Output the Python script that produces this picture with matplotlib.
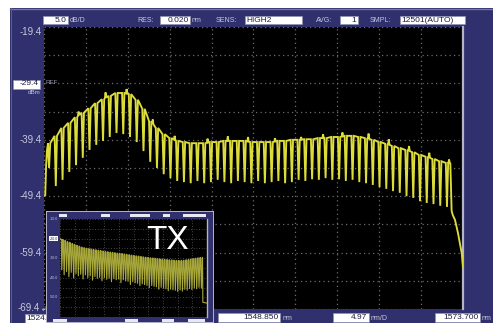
import matplotlib
matplotlib.use("Agg")
import matplotlib.pyplot as plt
import matplotlib.transforms as mtransforms
from matplotlib.patches import Rectangle
import numpy as np

# ---------------- instrument settings ----------------
start_nm = 1524.0
stop_nm = 1573.7
center_nm = 1548.85
span_div_nm = 4.97
ref_dbm = -29.4
scale_db_div = 5.0
top_dbm = -19.4
bottom_dbm = -69.4
axis_labels_dbm = [-19.4, -39.4, -49.4, -59.4]

# ---------------- WDM comb (main trace) ----------------
channel_nm = [
    1524.6, 1525.4, 1526.2, 1527.0, 1527.8, 1528.6, 1529.4, 1530.2, 1531.0, 1531.8,
    1532.6, 1533.4, 1534.2, 1535.0, 1535.8, 1536.6, 1537.4, 1538.2, 1539.0, 1539.8,
    1540.6, 1541.4, 1542.2, 1543.0, 1543.8, 1544.6, 1545.4, 1546.2, 1547.0, 1547.8,
    1548.6, 1549.4, 1550.2, 1551.0, 1551.8, 1552.6, 1553.4, 1554.2, 1555.0, 1555.8,
    1556.6, 1557.4, 1558.2, 1559.0, 1559.8, 1560.6, 1561.4, 1562.2, 1563.0, 1563.8,
    1564.6, 1565.4, 1566.2, 1567.0, 1567.8, 1568.6, 1569.4, 1570.2, 1571.0, 1571.8,
]
peak_dbm = [
    -40.0, -38.7, -37.3, -36.4, -35.4, -34.6, -33.8, -32.9, -32.2, -31.6,
    -31.1, -31.1, -31.3, -32.3, -33.9, -36.1, -37.3, -38.4, -39.1, -39.6,
    -39.8, -40.0, -40.0, -40.0, -39.8, -39.8, -39.6, -39.6, -39.6, -39.6,
    -39.8, -39.8, -39.8, -39.8, -39.6, -39.6, -39.4, -39.4, -39.3, -39.3,
    -39.1, -39.1, -38.9, -38.9, -38.7, -38.7, -38.9, -39.1, -39.4, -39.8,
    -40.1, -40.5, -40.9, -41.2, -41.6, -42.1, -42.4, -42.8, -43.2, -43.5,
]
notch_dbm = [
    -44.4, -47.6, -46.5, -45.1, -43.9, -42.6, -41.2, -40.3, -39.6, -38.9,
    -38.2, -38.4, -38.9, -39.8, -41.4, -43.3, -44.4, -45.5, -46.2, -46.7,
    -46.9, -47.1, -46.7, -47.1, -46.9, -46.5, -46.9, -47.1, -46.7, -46.9,
    -47.1, -46.7, -47.1, -46.9, -46.7, -47.1, -46.9, -46.5, -46.7, -46.4,
    -46.5, -46.2, -46.5, -46.4, -46.7, -46.5, -46.9, -47.1, -47.4, -47.8,
    -48.1, -48.5, -48.8, -49.4, -49.7, -50.3, -50.6, -50.8, -51.1, -51.3,
]
spike_nm = [1528.1, 1531.3, 1533.8, 1536.9, 1539.5, 1543.4, 1545.8, 1548.2, 1551.4,
            1554.5, 1557.1, 1559.4, 1562.5, 1564.9, 1567.3, 1569.7, 1572.05]
spike_dbm = [-34.4, -31.0, -30.4, -35.8, -38.7, -39.2, -38.8, -38.9, -39.1,
             -38.9, -38.4, -38.1, -38.3, -39.3, -40.5, -41.7, -42.9]
rise_nm = [1524.0, 1524.15, 1524.25, 1524.35, 1524.45]
rise_dbm = [-49.3, -49.2, -44.0, -41.3, -40.3]
tail_nm = [1572.2, 1572.35, 1572.5, 1572.75, 1573.1, 1573.55, 1573.7]
tail_dbm = [-43.6, -52.0, -52.8, -53.6, -55.9, -59.5, -62.0]

# ---------------- TX spectrum (inset) ----------------
tx_top_dbm = -10.0
tx_bottom_dbm = -60.0
tx_peak_dbm = [
    -20.4, -20.9, -21.5, -21.9, -22.5, -22.9, -23.4, -23.8, -24.3, -24.6,
    -24.9, -25.1, -25.3, -25.5, -25.7, -25.9, -26.1, -26.3, -26.5, -26.7,
    -26.9, -27.0, -27.2, -27.4, -27.5, -27.6, -27.8, -28.0, -28.2, -28.4,
    -28.6, -28.8, -28.9, -29.1, -29.3, -29.5, -29.6, -29.8, -29.9, -30.0,
    -30.2, -30.3, -30.5, -30.6, -30.7, -30.8, -30.9, -31.0, -31.1, -31.2,
    -31.2, -31.1, -31.0, -30.8, -30.6, -30.4, -30.2, -30.0, -29.8, -29.6,
]
tx_notch_dbm = [
    -36.0, -38.5, -36.8, -39.5, -37.2, -40.1, -37.8, -39.0, -38.2, -40.6,
    -38.5, -40.0, -39.0, -41.2, -39.4, -40.3, -39.8, -41.5, -40.0, -40.8,
    -40.2, -42.0, -40.5, -41.0, -40.6, -42.5, -41.0, -41.6, -41.8, -43.4,
    -42.0, -42.6, -42.8, -44.0, -43.1, -43.5, -43.9, -45.0, -44.0, -44.4,
    -44.6, -45.8, -44.9, -45.3, -45.6, -46.6, -45.8, -46.1, -46.4, -47.0,
    -46.2, -46.8, -45.9, -46.3, -45.5, -46.0, -45.2, -45.6, -44.9, -45.3,
]
tx_rise_nm = [1524.0, 1524.45]
tx_rise_dbm = [-20.0, -20.3]
tx_tail_nm = [1572.2, 1572.3, 1573.7]
tx_tail_dbm = [-29.6, -52.5, -52.9]
tx_labels_dbm = [-10.0, -30.0, -40.0, -50.0]

# ---------------- colours ----------------
NAVY = "#30306e"
LABEL = "#c8c8dc"
BOXTXT = "#1c1c3c"
TRACE = "#dcdc3a"
TX_TRACE = "#a8a83a"
GRID = "#6c6c6c"
EDGE = "#b4b4c8"

W, H = 493, 323
FONT = "Liberation Sans"


def px_rect(x0, y0, x1, y1):
    """Figure-fraction rectangle from pixel corners (origin top-left)."""
    return [x0 / W, 1 - y1 / H, (x1 - x0) / W, (y1 - y0) / H]


def comb_trace(ch, peaks, notches, lead_x, lead_y, tail_x, tail_y,
               sp_x=(), sp_y=(), half=0.12, sp_half=0.08):
    pts = list(zip(lead_x, lead_y))
    for c, p, n in zip(ch, peaks, notches):
        pts += [(c - half, p), (c, n), (c + half, p)]
    for sx, sy in zip(sp_x, sp_y):
        base_l = np.interp(sx - sp_half, ch, peaks)
        base_r = np.interp(sx + sp_half, ch, peaks)
        pts += [(sx - sp_half, base_l), (sx, sy), (sx + sp_half, base_r)]
    pts += list(zip(tail_x, tail_y))
    pts.sort(key=lambda t: t[0])
    xs, ys = zip(*pts)
    return np.array(xs), np.array(ys)


fig = plt.figure(figsize=(W / 100, H / 100), dpi=100)
fig.patch.set_facecolor("white")

# ---------- background panel and annotations (pixel coordinates) ----------
bg = fig.add_axes([0, 0, 1, 1], zorder=0)
bg.set_xlim(0, W)
bg.set_ylim(H, 0)
bg.axis("off")
bg.add_patch(Rectangle((10, 8), W - 10, H - 8, facecolor=NAVY, edgecolor="none"))
bg.plot([10, W], [8.5, 8.5], color="#7676a4", lw=1.0)
bg.plot([10.5, 10.5], [8, H], color="#5a5a90", lw=0.8)


def box(x0, x1, y0, y1, text, align="right", size=6):
    bg.add_patch(Rectangle((x0, y0), x1 - x0, y1 - y0, facecolor="white",
                           edgecolor="#9090b0", lw=0.5))
    if align == "right":
        bg.text(x1 - 1.5, (y0 + y1) / 2 + 0.3, text, ha="right", va="center",
                fontsize=size, color=BOXTXT, family=FONT)
    else:
        bg.text(x0 + 1.5, (y0 + y1) / 2 + 0.3, text, ha="left", va="center",
                fontsize=size, color=BOXTXT, family=FONT)


def label(x, y, text, size=5, ha="left"):
    bg.text(x, y, text, ha=ha, va="center", fontsize=size, color=LABEL, family=FONT)


# header row
box(43, 68, 16, 24, f"{scale_db_div:.1f}")
label(70, 20, "dB/D")
label(137, 20, "RES:")
box(160, 190, 16, 24, "0.020")
label(192, 20, "nm")
label(216, 20, "SENS:")
box(245, 302, 16, 24, "HIGH2", align="left")
label(316, 20, "AVG:")
box(340, 358, 16, 24, "1")
label(370, 20, "SMPL:")
box(400, 465, 16, 24, "12501(AUTO)", align="left")

# footer row
box(25, 68, 314, 323, f"{start_nm:.3f}", align="left")
box(218, 280, 313, 322, f"{center_nm:.3f}")
label(283, 318, "nm")
box(333, 369, 313, 322, f"{span_div_nm:.2f}")
label(371, 318, "nm/D")
box(435, 480, 313, 322, f"{stop_nm:.3f}")
label(482, 318, "nm")

# ---------- main spectrum axes ----------
ax = fig.add_axes(px_rect(44, 27, 463, 309), zorder=1)
ax.set_facecolor("black")
ax.set_xlim(start_nm, stop_nm)
ax.set_ylim(bottom_dbm, top_dbm)
ax.set_xticks(np.linspace(start_nm, stop_nm, 11))
ax.set_yticks(np.linspace(bottom_dbm, top_dbm, 11))
ax.tick_params(length=0, labelbottom=False, labelleft=False)
ax.grid(True, color=GRID, lw=0.9, linestyle=(0, (1, 2.6)))
for side in ("left", "top", "bottom"):
    ax.spines[side].set_visible(False)
ax.spines["right"].set_color(EDGE)
ax.spines["right"].set_linewidth(1.6)

xs, ys = comb_trace(channel_nm, peak_dbm, notch_dbm, rise_nm, rise_dbm,
                    tail_nm, tail_dbm, spike_nm, spike_dbm, half=0.14)
ax.plot(xs, ys, color=TRACE, lw=1.35, solid_joinstyle="miter", zorder=3)

# level labels on the left edge
yl = mtransforms.blended_transform_factory(fig.transFigure, ax.transData)
for v in axis_labels_dbm:
    yy = v if v != top_dbm else top_dbm - 0.8
    fig.text(42 / W, yy, f"{v:.1f}", transform=yl, ha="right", va="center",
             fontsize=7, color=LABEL, family=FONT)
fig.text(40 / W, bottom_dbm + 0.1, f"{bottom_dbm:.1f}", transform=yl, ha="right",
         va="center", fontsize=7, color=LABEL, family=FONT)
fig.text(40.5 / W, bottom_dbm + 0.1, "\u21b2", transform=yl, ha="left", va="center",
         fontsize=5, color=LABEL, family="DejaVu Sans")

# reference level box
bg.add_patch(Rectangle((13, 80), 27, 8.5, facecolor="white", edgecolor="#9090b0", lw=0.5))
fig.text(38.5 / W, ref_dbm, f"{ref_dbm:.1f}", transform=yl, ha="right", va="center",
         fontsize=6, color=BOXTXT, family=FONT)
fig.text(45 / W, ref_dbm + 0.1, "REF", transform=yl, ha="left", va="center",
         fontsize=4.5, color="#9a9aa8", family=FONT, zorder=5)
fig.text(40 / W, ref_dbm - 1.7, "dBm", transform=yl, ha="right", va="center",
         fontsize=4.5, color=LABEL, family=FONT)

# ---------- TX inset ----------
ip = fig.add_axes(px_rect(46, 211, 214, 323), zorder=3)
ip.set_xlim(46, 214)
ip.set_ylim(323, 211)
ip.axis("off")
ip.add_patch(Rectangle((46, 211), 168, 112, facecolor=NAVY, edgecolor="#c8c8d8", lw=1.2))
for x0, x1 in [(59, 67), (101, 110), (130, 150), (163, 170), (183, 206)]:
    ip.add_patch(Rectangle((x0, 214.3), x1 - x0, 2.6, facecolor="#e8e8f0", edgecolor="none"))
for x0, x1 in [(53, 67), (125, 138), (162, 174), (188, 205)]:
    ip.add_patch(Rectangle((x0, 318.5), x1 - x0, 3.5, facecolor="#e8e8f0", edgecolor="none"))

ia = fig.add_axes(px_rect(60, 219, 207, 317), zorder=4)
ia.set_facecolor("black")
ia.set_xlim(start_nm, stop_nm)
ia.set_ylim(tx_bottom_dbm, tx_top_dbm)
ia.set_xticks(np.linspace(start_nm, stop_nm, 11))
ia.set_yticks(np.linspace(tx_bottom_dbm, tx_top_dbm, 11))
ia.tick_params(length=0, labelbottom=False, labelleft=False)
ia.grid(True, color="#5a5a5a", lw=0.6, linestyle=(0, (1, 2.2)))
for side in ("left", "top", "bottom"):
    ia.spines[side].set_visible(False)
ia.spines["right"].set_color(EDGE)
ia.spines["right"].set_linewidth(1.0)

txs, tys = comb_trace(channel_nm, tx_peak_dbm, tx_notch_dbm, tx_rise_nm, tx_rise_dbm,
                      tx_tail_nm, tx_tail_dbm, half=0.3)
ia.fill_between(txs, tys, np.interp(txs, channel_nm, tx_peak_dbm), where=txs < 1572.2,
                color="#5c5c24", lw=0, zorder=2)
ia.plot(txs, tys, color=TX_TRACE, lw=0.8, zorder=3)
ia.text(0.73, 0.78, "TX", transform=ia.transAxes, ha="center", va="center",
        fontsize=24, color="white", family=FONT)

il = mtransforms.blended_transform_factory(ip.transData, ia.transData)
for v in tx_labels_dbm:
    ip.text(58, v, f"{v:.1f}", transform=il, ha="right", va="center",
            fontsize=2.6, color=LABEL, family=FONT, clip_on=False)
ip.text(58, -20.0, "-20.0", transform=il, ha="right", va="center", fontsize=2.6,
        color=BOXTXT, family=FONT,
        bbox=dict(boxstyle="square,pad=0.1", facecolor="white", edgecolor="none"))

fig.savefig("out.png", dpi=100, facecolor="white")
